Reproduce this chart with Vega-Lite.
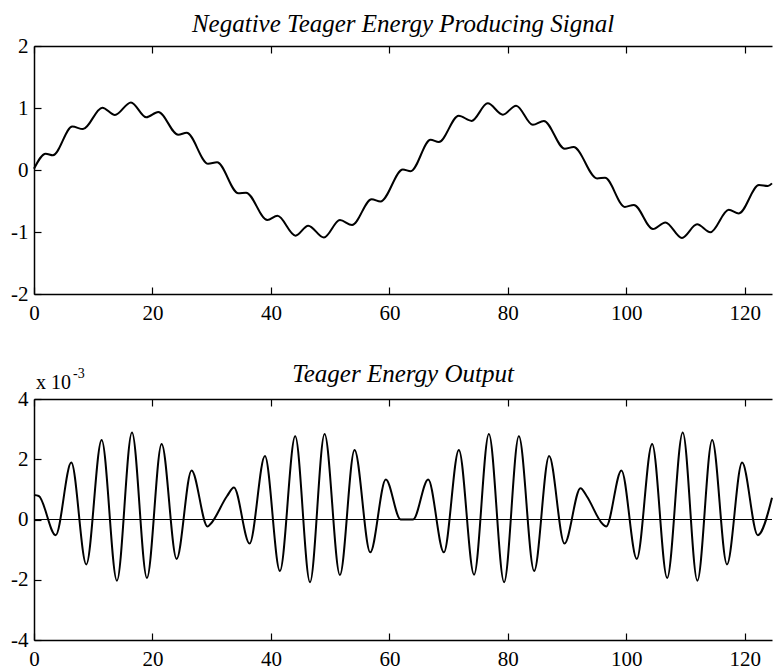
{
  "$schema": "https://vega.github.io/schema/vega-lite/v6.json",
  "background": "white",
  "padding": {"left": 10, "top": 12, "right": 0, "bottom": 0},
  "spacing": 105,
  "bounds": "flush",
  "config": {
    "view": {"stroke": null},
    "axis": {
      "labelFont": "Liberation Serif",
      "labelFontSize": 21,
      "labelColor": "black",
      "labelFlush": false,
      "labelOverlap": false,
      "domainColor": "black",
      "domainWidth": 1.5,
      "tickColor": "black",
      "tickWidth": 1.2,
      "tickSize": -7,
      "grid": false,
      "minExtent": 0
    },
    "axisX": {"labelPadding": 15},
    "axisY": {"labelPadding": 13},
    "title": {
      "font": "Liberation Serif",
      "fontStyle": "italic",
      "fontWeight": "normal",
      "fontSize": 25,
      "color": "black",
      "anchor": "middle",
      "frame": "group",
      "baseline": "alphabetic"
    }
  },
  "datasets": {
    "signal": [
      {"n": 0, "s": 0.02}, {"n": 1.97, "s": 0.264}, {"n": 3.2, "s": 0.237},
      {"n": 6.47, "s": 0.70}, {"n": 8.27, "s": 0.66}, {"n": 11.53, "s": 1.005},
      {"n": 13.67, "s": 0.888}, {"n": 16.37, "s": 1.09}, {"n": 18.96, "s": 0.85},
      {"n": 20.98, "s": 0.936}, {"n": 24.35, "s": 0.568}, {"n": 25.77, "s": 0.60},
      {"n": 29.4, "s": 0.10}, {"n": 30.9, "s": 0.125}, {"n": 34.5, "s": -0.376},
      {"n": 35.8, "s": -0.365}, {"n": 39.4, "s": -0.808}, {"n": 41.1, "s": -0.739},
      {"n": 44.16, "s": -1.059}, {"n": 46.3, "s": -0.899}, {"n": 48.95, "s": -1.09},
      {"n": 51.65, "s": -0.808}, {"n": 53.7, "s": -0.888}, {"n": 57.0, "s": -0.472},
      {"n": 58.5, "s": -0.509}, {"n": 62.28, "s": 0.008}, {"n": 63.6, "s": -0.02},
      {"n": 66.95, "s": 0.488}, {"n": 68.35, "s": 0.45}, {"n": 71.7, "s": 0.877},
      {"n": 73.87, "s": 0.792}, {"n": 76.6, "s": 1.075}, {"n": 79.16, "s": 0.893},
      {"n": 81.4, "s": 1.037}, {"n": 84.22, "s": 0.728}, {"n": 86.08, "s": 0.792},
      {"n": 89.6, "s": 0.344}, {"n": 91.1, "s": 0.37}, {"n": 95.07, "s": -0.136},
      {"n": 96.4, "s": -0.125}, {"n": 99.75, "s": -0.595}, {"n": 101.27, "s": -0.563},
      {"n": 104.5, "s": -0.952}, {"n": 106.6, "s": -0.845}, {"n": 109.4, "s": -1.096},
      {"n": 111.95, "s": -0.877}, {"n": 114.2, "s": -1.005}, {"n": 117.3, "s": -0.643},
      {"n": 119.0, "s": -0.70}, {"n": 122.4, "s": -0.243}, {"n": 123.9, "s": -0.259},
      {"n": 124.6, "s": -0.216}
    ],
    "teager": [
      {"n": 0, "psi": 0.00081}, {"n": 0.8, "psi": 0.00078}, {"n": 3.66, "psi": -0.00052},
      {"n": 6.3, "psi": 0.00189}, {"n": 8.83, "psi": -0.00149}, {"n": 11.42, "psi": 0.00264},
      {"n": 14.0, "psi": -0.00203}, {"n": 16.54, "psi": 0.00289}, {"n": 19.07, "psi": -0.00194},
      {"n": 21.55, "psi": 0.00251}, {"n": 24.08, "psi": -0.00131}, {"n": 26.6, "psi": 0.00163},
      {"n": 29.3, "psi": -0.00023}, {"n": 29.8, "psi": -0.00015}, {"n": 32.6, "psi": 0.00078},
      {"n": 33.75, "psi": 0.00106}, {"n": 36.4, "psi": -0.0008}, {"n": 38.99, "psi": 0.00211},
      {"n": 41.52, "psi": -0.00171}, {"n": 44.1, "psi": 0.00276}, {"n": 46.6, "psi": -0.00208},
      {"n": 49.06, "psi": 0.00284}, {"n": 51.65, "psi": -0.00184}, {"n": 54.12, "psi": 0.00231},
      {"n": 56.77, "psi": -0.00109}, {"n": 59.4, "psi": 0.00133}, {"n": 61.9, "psi": 0},
      {"n": 64.0, "psi": 0}, {"n": 66.55, "psi": 0.00133}, {"n": 69.2, "psi": -0.00109},
      {"n": 71.73, "psi": 0.00231}, {"n": 74.3, "psi": -0.00183}, {"n": 76.8, "psi": 0.00284},
      {"n": 79.37, "psi": -0.00208}, {"n": 81.86, "psi": 0.00276}, {"n": 84.44, "psi": -0.00171},
      {"n": 86.97, "psi": 0.00211}, {"n": 89.56, "psi": -0.0008}, {"n": 92.27, "psi": 0.00104},
      {"n": 93.3, "psi": 0.00078}, {"n": 96.0, "psi": -0.00015}, {"n": 96.6, "psi": -0.00023},
      {"n": 99.18, "psi": 0.00163}, {"n": 101.77, "psi": -0.00131}, {"n": 104.36, "psi": 0.00251},
      {"n": 106.9, "psi": -0.00194}, {"n": 109.53, "psi": 0.00289}, {"n": 112.0, "psi": -0.00203},
      {"n": 114.5, "psi": 0.00264}, {"n": 117.0, "psi": -0.00149}, {"n": 119.55, "psi": 0.00189},
      {"n": 122.2, "psi": -0.00052}, {"n": 124.6, "psi": 0.00072}
    ]
  },
  "vconcat": [
    {
      "width": 738,
      "height": 248,
      "title": {"text": "Negative Teager Energy Producing Signal", "offset": -2},
      "data": {"name": "signal"},
      "resolve": {"axis": {"x": "independent"}},
      "layer": [
        {
          "mark": {"type": "line", "interpolate": "monotone", "color": "black", "strokeWidth": 2},
          "encoding": {
            "x": {
              "field": "n", "type": "quantitative",
              "scale": {"domain": [0, 124.6], "nice": false, "zero": false},
              "axis": {"values": [0, 20, 40, 60, 80, 100, 120], "title": null}
            },
            "y": {
              "field": "s", "type": "quantitative",
              "scale": {"domain": [-2, 2], "nice": false},
              "axis": {"values": [-2, -1, 0, 1, 2], "labelExpr": "'' + datum.value", "title": null}
            }
          }
        },
        {
          "mark": {"type": "line", "strokeOpacity": 0},
          "encoding": {
            "x": {
              "field": "n", "type": "quantitative",
              "axis": {"orient": "top", "labels": false, "title": null, "values": [0, 20, 40, 60, 80, 100, 120]}
            },
            "y": {"field": "s", "type": "quantitative"}
          }
        }
      ]
    },
    {
      "width": 738,
      "height": 241,
      "title": {"text": "Teager Energy Output", "offset": -20},
      "resolve": {"axis": {"x": "independent"}},
      "layer": [
        {
          "data": {"values": [{}]},
          "mark": {"type": "rule", "color": "black", "strokeWidth": 1},
          "encoding": {"y": {"datum": 0, "type": "quantitative"}}
        },
        {
          "data": {"name": "teager"},
          "mark": {"type": "line", "interpolate": "monotone", "color": "black", "strokeWidth": 2},
          "encoding": {
            "x": {
              "field": "n", "type": "quantitative",
              "scale": {"domain": [0, 124.6], "nice": false, "zero": false},
              "axis": {"values": [0, 20, 40, 60, 80, 100, 120], "title": null}
            },
            "y": {
              "field": "psi", "type": "quantitative",
              "scale": {"domain": [-0.004, 0.004], "nice": false},
              "axis": {
                "values": [-0.004, -0.002, 0, 0.002, 0.004],
                "labelExpr": "'' + round(datum.value * 1000)",
                "title": null
              }
            }
          }
        },
        {
          "data": {"name": "teager"},
          "mark": {"type": "line", "strokeOpacity": 0},
          "encoding": {
            "x": {
              "field": "n", "type": "quantitative",
              "axis": {"orient": "top", "labels": false, "title": null, "values": [0, 20, 40, 60, 80, 100, 120]}
            },
            "y": {"field": "psi", "type": "quantitative"}
          }
        },
        {
          "data": {"values": [{}]},
          "mark": {
            "type": "text", "align": "left", "baseline": "alphabetic",
            "font": "Liberation Serif", "fontSize": 20, "color": "black",
            "dx": 2, "dy": -10
          },
          "encoding": {
            "x": {"datum": 0, "type": "quantitative", "axis": null},
            "y": {"datum": 0.004, "type": "quantitative"},
            "text": {"value": "x 10"}
          }
        },
        {
          "data": {"values": [{}]},
          "mark": {
            "type": "text", "align": "left", "baseline": "alphabetic",
            "font": "Liberation Serif", "fontSize": 14, "color": "black",
            "dx": 39, "dy": -21
          },
          "encoding": {
            "x": {"datum": 0, "type": "quantitative", "axis": null},
            "y": {"datum": 0.004, "type": "quantitative"},
            "text": {"value": "-3"}
          }
        }
      ]
    }
  ]
}
